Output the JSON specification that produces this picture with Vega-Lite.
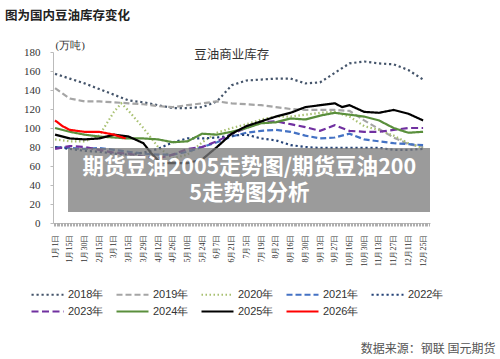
{
  "$schema": "https://vega.github.io/schema/vega-lite/v6.json",
  "width": 377,
  "height": 171,
  "autosize": "none",
  "padding": {"left": 53, "top": 52, "right": 70, "bottom": 136},
  "background": "white",
  "title": {"text": "图为国内豆油库存变化", "anchor": "start", "frame": "group", "dx": -48, "offset": 16.5, "font": "Noto Sans CJK SC", "fontSize": 12.5, "fontWeight": "bold", "color": "#222"},
  "config": {"view": {"stroke": null}},
  "datasets": {
    "inv": [
      {"s":"2018年","i":0,"v":157},{"s":"2018年","i":1,"v":152},{"s":"2018年","i":2,"v":147},{"s":"2018年","i":3,"v":141},{"s":"2018年","i":4,"v":135},{"s":"2018年","i":5,"v":129},{"s":"2018年","i":6,"v":127},{"s":"2018年","i":7,"v":124},{"s":"2018年","i":8,"v":121},{"s":"2018年","i":9,"v":121},{"s":"2018年","i":10,"v":122},{"s":"2018年","i":11,"v":128},{"s":"2018年","i":12,"v":145},{"s":"2018年","i":13,"v":150},{"s":"2018年","i":14,"v":151},{"s":"2018年","i":15,"v":152},{"s":"2018年","i":16,"v":152},{"s":"2018年","i":17,"v":147},{"s":"2018年","i":18,"v":148},{"s":"2018年","i":19,"v":158},{"s":"2018年","i":20,"v":168},{"s":"2018年","i":21,"v":170},{"s":"2018年","i":22,"v":168},{"s":"2018年","i":23,"v":167},{"s":"2018年","i":24,"v":161},{"s":"2018年","i":25,"v":151},
      {"s":"2019年","i":0,"v":142},{"s":"2019年","i":1,"v":131},{"s":"2019年","i":2,"v":128},{"s":"2019年","i":3,"v":128},{"s":"2019年","i":4,"v":127},{"s":"2019年","i":5,"v":126},{"s":"2019年","i":6,"v":125},{"s":"2019年","i":7,"v":123},{"s":"2019年","i":8,"v":122},{"s":"2019年","i":9,"v":124},{"s":"2019年","i":10,"v":126},{"s":"2019年","i":11,"v":128},{"s":"2019年","i":12,"v":126},{"s":"2019年","i":13,"v":125},{"s":"2019年","i":14,"v":124},{"s":"2019年","i":15,"v":122},{"s":"2019年","i":16,"v":120},{"s":"2019年","i":17,"v":119},{"s":"2019年","i":18,"v":119},{"s":"2019年","i":19,"v":119},{"s":"2019年","i":20,"v":118},{"s":"2019年","i":21,"v":108},{"s":"2019年","i":22,"v":99},{"s":"2019年","i":23,"v":90},{"s":"2019年","i":24,"v":83},{"s":"2019年","i":25,"v":80},
      {"s":"2020年","i":0,"v":88},{"s":"2020年","i":1,"v":86},{"s":"2020年","i":2,"v":86},{"s":"2020年","i":3,"v":92},{"s":"2020年","i":4,"v":117},{"s":"2020年","i":4.5,"v":126},{"s":"2020年","i":5,"v":118},{"s":"2020年","i":6,"v":100},{"s":"2020年","i":7,"v":80},{"s":"2020年","i":8,"v":68},{"s":"2020年","i":9,"v":72},{"s":"2020年","i":10,"v":85},{"s":"2020年","i":11,"v":95},{"s":"2020年","i":12,"v":100},{"s":"2020年","i":13,"v":104},{"s":"2020年","i":14,"v":109},{"s":"2020年","i":15,"v":112},{"s":"2020年","i":16,"v":112},{"s":"2020年","i":17,"v":114},{"s":"2020年","i":18,"v":116},{"s":"2020年","i":19,"v":117},{"s":"2020年","i":20,"v":112},{"s":"2020年","i":21,"v":102},{"s":"2020年","i":22,"v":98},{"s":"2020年","i":23,"v":92},{"s":"2020年","i":24,"v":84},{"s":"2020年","i":25,"v":79},
      {"s":"2021年","i":0,"v":80},{"s":"2021年","i":1,"v":79},{"s":"2021年","i":2,"v":78},{"s":"2021年","i":3,"v":79},{"s":"2021年","i":4,"v":77},{"s":"2021年","i":5,"v":75},{"s":"2021年","i":6,"v":73},{"s":"2021年","i":7,"v":72},{"s":"2021年","i":8,"v":72},{"s":"2021年","i":9,"v":75},{"s":"2021年","i":10,"v":80},{"s":"2021年","i":11,"v":85},{"s":"2021年","i":12,"v":91},{"s":"2021年","i":13,"v":95},{"s":"2021年","i":14,"v":97},{"s":"2021年","i":15,"v":98},{"s":"2021年","i":16,"v":96},{"s":"2021年","i":17,"v":92},{"s":"2021年","i":18,"v":89},{"s":"2021年","i":19,"v":90},{"s":"2021年","i":20,"v":94},{"s":"2021年","i":21,"v":88},{"s":"2021年","i":22,"v":86},{"s":"2021年","i":23,"v":84},{"s":"2021年","i":24,"v":83},{"s":"2021年","i":25,"v":82},
      {"s":"2022年","i":0,"v":80},{"s":"2022年","i":1,"v":78},{"s":"2022年","i":2,"v":76},{"s":"2022年","i":3,"v":75},{"s":"2022年","i":4,"v":73},{"s":"2022年","i":5,"v":72},{"s":"2022年","i":6,"v":74},{"s":"2022年","i":7,"v":78},{"s":"2022年","i":8,"v":85},{"s":"2022年","i":9,"v":89},{"s":"2022年","i":10,"v":89},{"s":"2022年","i":11,"v":90},{"s":"2022年","i":12,"v":92},{"s":"2022年","i":13,"v":93},{"s":"2022年","i":14,"v":89},{"s":"2022年","i":15,"v":87},{"s":"2022年","i":16,"v":82},{"s":"2022年","i":17,"v":80},{"s":"2022年","i":18,"v":79},{"s":"2022年","i":19,"v":79},{"s":"2022年","i":20,"v":79},{"s":"2022年","i":21,"v":79},{"s":"2022年","i":22,"v":79},{"s":"2022年","i":23,"v":77},{"s":"2022年","i":24,"v":77},{"s":"2022年","i":25,"v":78},
      {"s":"2023年","i":0,"v":78},{"s":"2023年","i":1,"v":81},{"s":"2023年","i":2,"v":80},{"s":"2023年","i":3,"v":77},{"s":"2023年","i":4,"v":74},{"s":"2023年","i":5,"v":73},{"s":"2023年","i":6,"v":70},{"s":"2023年","i":7,"v":68},{"s":"2023年","i":8,"v":72},{"s":"2023年","i":9,"v":78},{"s":"2023年","i":10,"v":80},{"s":"2023年","i":11,"v":86},{"s":"2023年","i":12,"v":94},{"s":"2023年","i":13,"v":100},{"s":"2023年","i":14,"v":106},{"s":"2023年","i":15,"v":107},{"s":"2023年","i":16,"v":104},{"s":"2023年","i":17,"v":101},{"s":"2023年","i":18,"v":97},{"s":"2023年","i":19,"v":103},{"s":"2023年","i":20,"v":97},{"s":"2023年","i":21,"v":96},{"s":"2023年","i":22,"v":96},{"s":"2023年","i":23,"v":98},{"s":"2023年","i":24,"v":100},{"s":"2023年","i":25,"v":100},
      {"s":"2024年","i":0,"v":100},{"s":"2024年","i":1,"v":96},{"s":"2024年","i":2,"v":93},{"s":"2024年","i":3,"v":91},{"s":"2024年","i":4,"v":90},{"s":"2024年","i":5,"v":89},{"s":"2024年","i":6,"v":89},{"s":"2024年","i":7,"v":88},{"s":"2024年","i":8,"v":85},{"s":"2024年","i":9,"v":86},{"s":"2024年","i":10,"v":94},{"s":"2024年","i":11,"v":93},{"s":"2024年","i":12,"v":96},{"s":"2024年","i":13,"v":100},{"s":"2024年","i":14,"v":105},{"s":"2024年","i":15,"v":106},{"s":"2024年","i":16,"v":110},{"s":"2024年","i":17,"v":109},{"s":"2024年","i":18,"v":113},{"s":"2024年","i":19,"v":116},{"s":"2024年","i":20,"v":114},{"s":"2024年","i":21,"v":112},{"s":"2024年","i":22,"v":108},{"s":"2024年","i":23,"v":100},{"s":"2024年","i":24,"v":95},{"s":"2024年","i":25,"v":96},
      {"s":"2025年","i":0,"v":93},{"s":"2025年","i":1,"v":89},{"s":"2025年","i":2,"v":88},{"s":"2025年","i":3,"v":89},{"s":"2025年","i":4,"v":93},{"s":"2025年","i":5,"v":91},{"s":"2025年","i":6,"v":84},{"s":"2025年","i":6.5,"v":74},{"s":"2025年","i":7,"v":66},{"s":"2025年","i":7.5,"v":63},{"s":"2025年","i":8,"v":63},{"s":"2025年","i":9,"v":63},{"s":"2025年","i":10,"v":67},{"s":"2025年","i":11,"v":80},{"s":"2025年","i":12,"v":94},{"s":"2025年","i":13,"v":102},{"s":"2025年","i":14,"v":107},{"s":"2025年","i":15,"v":112},{"s":"2025年","i":16,"v":116},{"s":"2025年","i":17,"v":122},{"s":"2025年","i":18,"v":124},{"s":"2025年","i":19,"v":126},{"s":"2025年","i":19.5,"v":122},{"s":"2025年","i":20,"v":124},{"s":"2025年","i":21,"v":117},{"s":"2025年","i":22,"v":116},{"s":"2025年","i":23,"v":119},{"s":"2025年","i":24,"v":115},{"s":"2025年","i":25,"v":108},
      {"s":"2026年","i":0,"v":108},{"s":"2026年","i":0.5,"v":102},{"s":"2026年","i":1,"v":98},{"s":"2026年","i":2,"v":96},{"s":"2026年","i":3,"v":96},{"s":"2026年","i":4,"v":93},{"s":"2026年","i":4.8,"v":89}
    ]
  },
  "layer": [
    {
      "data": {"name": "inv"},
      "mark": {"type": "line", "strokeWidth": 2.2},
      "encoding": {
        "x": {"field": "i", "type": "quantitative",
          "scale": {"domain": [-0.14, 25.47], "nice": false, "zero": false},
          "axis": {"orient": "bottom", "title": null, "values": [0,1,2,3,4,5,6,7,8,9,10,11,12,13,14,15,16,17,18,19,20,21,22,23,24,25],
            "labelExpr": "['1月1日','1月15日','1月30日','2月15日','3月1日','3月15日','3月29日','4月12日','4月26日','5月10日','5月24日','6月7日','6月21日','7月5日','7月19日','8月2日','8月16日','8月30日','9月13日','9月27日','10月16日','10月30日','11月13日','11月27日','12月11日','12月25日'][datum.value]",
            "labelAngle": -90, "labelFont": "Liberation Serif", "labelFontSize": 8, "labelColor": "#333", "labelPadding": 11, "ticks": false, "domainColor": "#bbbbbb", "grid": false, "labelOverlap": false}},
        "y": {"field": "v", "type": "quantitative",
          "scale": {"domain": [0, 180], "nice": false},
          "axis": {"orient": "left", "title": "(万吨)", "titleAngle": 0, "titleX": 2, "titleY": -2, "titleAlign": "left", "titleBaseline": "bottom", "titleFont": "Liberation Serif", "titleFontSize": 11, "titleFontWeight": "normal", "titleColor": "#333",
            "values": [0,20,40,60,80,100,120,140,160,180], "labelOverlap": false, "labelFont": "Liberation Serif", "labelFontSize": 11, "labelColor": "#333", "labelPadding": 10, "tickSize": 3, "tickColor": "#bbbbbb", "domainColor": "#bbbbbb", "grid": false}},
        "color": {"field": "s", "type": "nominal",
          "scale": {"domain": ["2018年","2019年","2020年","2021年","2022年","2023年","2024年","2025年","2026年"],
            "range": ["#44546A","#A5A5A5","#A8C070","#4472C4","#264478","#7030A0","#5A8F3C","#000000","#FF0000"]},
          "legend": {"title": null, "orient": "none", "legendX": -15, "legendY": 233, "direction": "horizontal", "columns": 5, "padding": 0,
            "symbolType": "M-2,0H2", "symbolSize": 256, "symbolStrokeWidth": 2.2, "labelFont": "Liberation Sans", "labelFontSize": 11, "labelColor": "#333", "labelOffset": 11, "columnPadding": 8, "rowPadding": 2}},
        "strokeDash": {"field": "s", "type": "nominal",
          "scale": {"domain": ["2018年","2019年","2020年","2021年","2022年","2023年","2024年","2025年","2026年"],
            "range": [[2.2,2.8],[6,3],[1.5,2.5],[6,3],[2.2,2.8],[7,3.5],[1,0],[1,0],[1,0]]}}
      }
    },
    {
      "data": {"values": [{}]},
      "mark": {"type": "rect", "fill": "#7a7a7a", "opacity": 0.75},
      "encoding": {
        "x": {"datum": 0.88, "type": "quantitative",
          "axis": {"orient": "bottom", "tickCount": 250, "labels": false, "domain": false, "tickSize": 3, "tickColor": "#999999", "tickWidth": 0.8, "grid": false,
            "title": "数据来源：钢联 国元期货", "titleX": 442, "titleY": 125, "titleAlign": "right", "titleAnchor": null, "titleBaseline": "middle", "titleFont": "Noto Sans CJK SC", "titleFontSize": 12, "titleFontWeight": "normal", "titleColor": "#555"}},
        "x2": {"datum": 25.47},
        "y": {"datum": 79, "type": "quantitative", "axis": null},
        "y2": {"datum": 11.5}
      }
    },
    {
      "data": {"values": [{}]},
      "mark": {"type": "text", "text": "期货豆油2005走势图/期货豆油200\n5走势图分析", "lineBreak": "\n", "lineHeight": 26, "font": "Noto Sans CJK SC", "fontSize": 21.5, "fontWeight": "bold", "color": "#ffffff", "align": "center", "baseline": "middle"},
      "encoding": {
        "x": {"datum": 13.2, "type": "quantitative", "axis": null},
        "y": {"datum": 58, "type": "quantitative", "axis": null}
      }
    },
    {
      "data": {"values": [{}]},
      "mark": {"type": "text", "text": "豆油商业库存", "font": "Noto Sans CJK SC", "fontSize": 12.5, "color": "#333", "align": "center", "baseline": "middle"},
      "encoding": {
        "x": {"datum": 12.0, "type": "quantitative", "axis": null},
        "y": {"datum": 177, "type": "quantitative", "axis": null}
      }
    }
  ],
  "resolve": {"axis": {"x": "independent", "y": "independent"}}
}
